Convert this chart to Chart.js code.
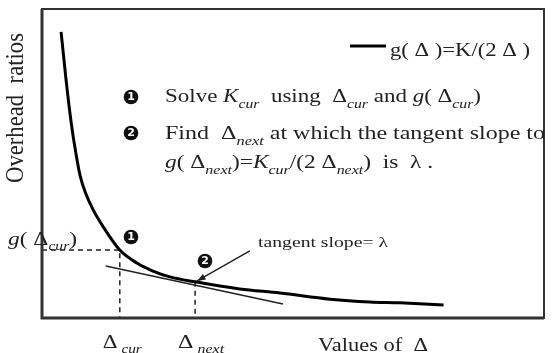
<!DOCTYPE html>
<html>
<head>
<meta charset="utf-8">
<script src="https://cdn.jsdelivr.net/npm/chart.js@4.4.0/dist/chart.umd.min.js"></script>
<style>
  html, body { margin: 0; padding: 0; background: #fff; }
  #wrap { width: 552px; height: 353px; }
</style>
</head>
<body>
<div id="wrap"><canvas id="chart" width="552" height="353"></canvas></div>
<script>
// curve g(Δ)
var curveDelta = [0.38, 0.48, 0.58, 0.68, 0.76, 0.86, 1.02, 1.22, 1.55, 1.89, 2.21, 2.55, 3.05, 3.94, 4.74, 5.74, 6.53, 7.13, 8.00];
var curveRatio = [9.26, 7.70, 6.34, 5.28, 4.60, 4.08, 3.50, 2.95, 2.20, 1.78, 1.52, 1.33, 1.17, 0.94, 0.81, 0.61, 0.52, 0.49, 0.42];

var deltaCur = 1.55, gCur = 2.2;
var deltaNext = 3.05, gNext = 1.17;

var tangentDelta = [1.27, 4.80];
var tangentRatio = [1.68, 0.45];

var arrowDelta = [4.14, 3.09];
var arrowRatio = [2.17, 1.20];

var curveLabel = 'g( Δ )=K/(2 Δ )';

function pts(xs, ys) {
    return xs.map(function(x, i){ return {x: x, y: ys[i]}; });
}

var SERIF = '"Liberation Serif", "DejaVu Serif", serif';
function fontFor(s, size) {
    var sz = s.sub ? Math.round(size * 0.68) : size;
    return (s.it ? 'italic ' : '') + sz + 'px ' + SERIF;
}
// rich text: segments with italic / subscript, stretched to a given width
function drawRich(ctx, segs, x, y, size, width, rot, sy) {
    var nat = 0;
    segs.forEach(function(s){ ctx.font = fontFor(s, size); nat += ctx.measureText(s.t).width; });
    var sx = width ? width / nat : 1;
    ctx.save();
    ctx.translate(x, y);
    if (rot) ctx.rotate(rot);
    ctx.scale(sx, sy || 1);
    ctx.fillStyle = '#222';
    ctx.textBaseline = 'alphabetic';
    var cx = 0;
    segs.forEach(function(s){
        ctx.font = fontFor(s, size);
        ctx.fillText(s.t, cx, s.sub ? size * 0.3 : 0);
        cx += ctx.measureText(s.t).width;
    });
    ctx.restore();
}
function badge(ctx, x, y, n) {
    ctx.save();
    ctx.fillStyle = '#111';
    ctx.beginPath(); ctx.arc(x, y, 7.3, 0, Math.PI * 2); ctx.fill();
    ctx.fillStyle = '#fff';
    ctx.font = 'bold 11px "DejaVu Sans", sans-serif';
    ctx.textAlign = 'center'; ctx.textBaseline = 'middle';
    ctx.fillText(String(n), x, y + 0.5);
    ctx.restore();
}

var decor = {
    id: 'decor',
    afterDraw: function(chart) {
        var ctx = chart.ctx, a = chart.chartArea;
        var xs = chart.scales.x, ys = chart.scales.y;

        // frame
        ctx.save();
        ctx.strokeStyle = '#333';
        ctx.lineWidth = 2;
        ctx.strokeRect(a.left, a.top, a.right - a.left, a.bottom - a.top);
        ctx.lineWidth = 3;
        ctx.beginPath();
        ctx.moveTo(a.left, a.top); ctx.lineTo(a.left, a.bottom); ctx.lineTo(a.right, a.bottom);
        ctx.stroke();
        ctx.restore();

        // arrow head
        var x1 = xs.getPixelForValue(arrowDelta[0]), y1 = ys.getPixelForValue(arrowRatio[0]);
        var x2 = xs.getPixelForValue(arrowDelta[1]), y2 = ys.getPixelForValue(arrowRatio[1]);
        var ang = Math.atan2(y2 - y1, x2 - x1);
        ctx.save();
        ctx.fillStyle = '#222';
        ctx.beginPath();
        ctx.moveTo(x2, y2);
        ctx.lineTo(x2 - 9 * Math.cos(ang - 0.35), y2 - 9 * Math.sin(ang - 0.35));
        ctx.lineTo(x2 - 9 * Math.cos(ang + 0.35), y2 - 9 * Math.sin(ang + 0.35));
        ctx.closePath(); ctx.fill();
        ctx.restore();

        // legend
        var ds = chart.data.datasets[0];
        ctx.save();
        ctx.strokeStyle = ds.borderColor; ctx.lineWidth = 3;
        ctx.beginPath(); ctx.moveTo(350, 46); ctx.lineTo(386, 46); ctx.stroke();
        ctx.restore();
        drawRich(ctx, [{t: ds.label}], 390, 56, 18, 140);

        // notes
        badge(ctx, 131, 97, 1);
        badge(ctx, 131, 133, 2);
        drawRich(ctx, [{t:'Solve '}, {t:'K', it:1}, {t:'cur', it:1, sub:1}, {t:'  using  Δ'}, {t:'cur', it:1, sub:1},
            {t:' and '}, {t:'g', it:1}, {t:'( Δ'}, {t:'cur', it:1, sub:1}, {t:')'}], 165, 102, 19, 316);
        drawRich(ctx, [{t:'Find  Δ'}, {t:'next', it:1, sub:1}, {t:' at which the tangent slope to'}], 165, 139, 19, 380);
        drawRich(ctx, [{t:'g', it:1}, {t:'( Δ'}, {t:'next', it:1, sub:1}, {t:')='}, {t:'K', it:1}, {t:'cur', it:1, sub:1},
            {t:'/(2 Δ'}, {t:'next', it:1, sub:1}, {t:')  is  λ .'}], 165, 168, 19, 268);

        // markers on the curve
        badge(ctx, 131, 237, 1);
        badge(ctx, 205, 261, 2);
        drawRich(ctx, [{t:'tangent slope= λ'}], 258, 247, 14, 130);

        // axis labels
        drawRich(ctx, [{t:'g', it:1}, {t:'( Δ'}, {t:'cur', it:1, sub:1}, {t:')'}], 8, 245, 18, 69);
        var pc = xs.getPixelForValue(deltaCur), pn = xs.getPixelForValue(deltaNext);
        drawRich(ctx, [{t:'Δ'}, {t:' cur', it:1, sub:1}], pc - 17, 348, 18, 39);
        drawRich(ctx, [{t:'Δ'}, {t:' next', it:1, sub:1}], pn - 17, 348, 18, 46);
        drawRich(ctx, [{t:'Values of  Δ'}], 318, 351, 19, 110);
        drawRich(ctx, [{t:'Overhead  ratios'}], 23, 183, 19, 150, -Math.PI / 2, 1.3);
    }
};

var chart = new Chart(document.getElementById('chart'), {
    type: 'scatter',
    data: {
        datasets: [{
            label: curveLabel,
            data: pts(curveDelta, curveRatio),
            showLine: true,
            borderColor: '#000',
            borderWidth: 3,
            cubicInterpolationMode: 'monotone',
            pointRadius: 0
        }, {
            label: 'tangent',
            data: pts(tangentDelta, tangentRatio),
            showLine: true,
            borderColor: '#222',
            borderWidth: 1.5,
            pointRadius: 0
        }, {
            label: 'g cur',
            data: [{x: 0, y: gCur}, {x: deltaCur, y: gCur}, {x: deltaCur, y: 0}],
            showLine: true,
            borderColor: '#222',
            borderWidth: 1.5,
            borderDash: [5, 4],
            pointRadius: 0
        }, {
            label: 'next',
            data: [{x: deltaNext, y: gNext}, {x: deltaNext, y: 0}],
            showLine: true,
            borderColor: '#222',
            borderWidth: 1.5,
            borderDash: [5, 4],
            pointRadius: 0
        }, {
            label: 'arrow',
            data: pts(arrowDelta, arrowRatio),
            showLine: true,
            borderColor: '#222',
            borderWidth: 1.5,
            pointRadius: 0
        }]
    },
    options: {
        responsive: false,
        animation: false,
        devicePixelRatio: 1,
        layout: {padding: {left: 42, top: 9, right: 8, bottom: 35}},
        scales: {
            x: {type: 'linear', min: 0, max: 10, display: false},
            y: {type: 'linear', min: 0, max: 10, display: false}
        },
        plugins: {legend: {display: false}, tooltip: {enabled: false}}
    },
    plugins: [decor]
});
</script>
</body>
</html>
